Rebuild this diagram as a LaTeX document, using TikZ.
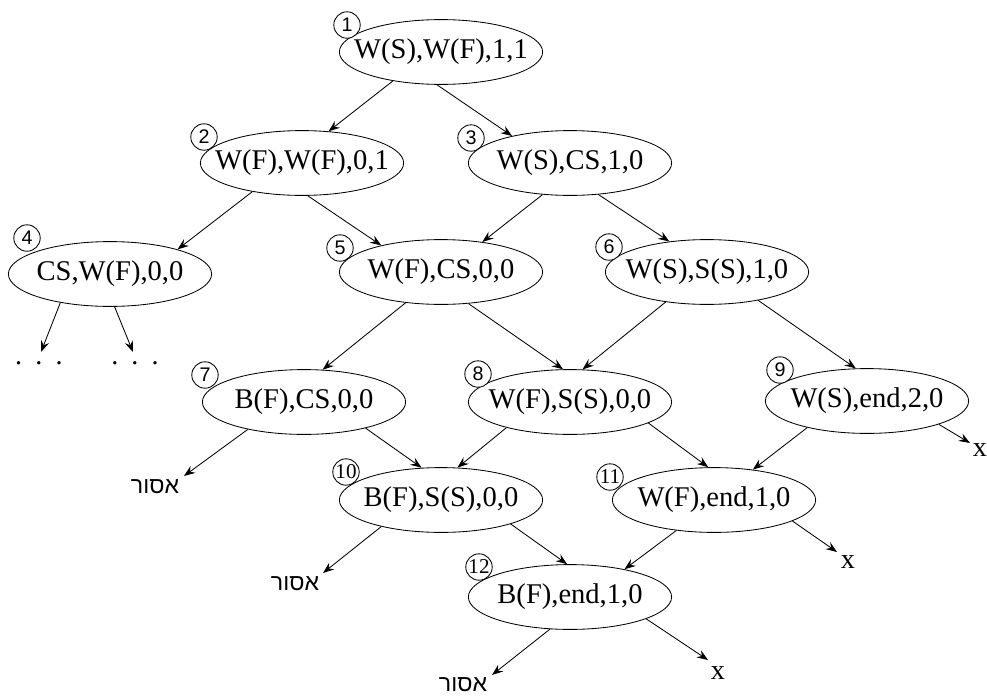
\documentclass[tikz,border=0pt]{standalone}
\usepackage{fontspec}
\setmainfont{Liberation Serif}
\newfontfamily\numfont{Liberation Sans}
\newfontfamily\hebfont[Script=Hebrew]{Liberation Sans}
\TeXXeTstate=1
\usetikzlibrary{shapes.geometric,arrows.meta}
\newcommand{\lbl}[1]{\makebox[0pt]{#1}}

\begin{document}
\begin{tikzpicture}[x=0.025cm,y=-0.025cm,
		state/.style={shape=ellipse,draw=black,line width=0.6pt,inner sep=0pt,minimum width=5.08cm,minimum height=1.62cm,font=\fontsize{20.3}{24}\selectfont},
		num/.style={shape=circle,draw=black,fill=white,line width=0.6pt,inner sep=0pt,minimum size=0.66cm,font=\numfont\fontsize{14}{16}\selectfont},
		numb/.style={num,font=\fontsize{15}{17}\selectfont},
		leaf/.style={inner sep=0pt,font=\fontsize{20}{24}\selectfont},
		heb/.style={inner sep=0pt,font=\hebfont\fontsize{16.5}{20}\selectfont},
		edge/.style={-{Stealth[length=2.8mm,width=2.1mm,inset=1mm]},line width=0.6pt}]
			\useasboundingbox (0,0) rectangle (987,698);

			\node[state] (n1) at (441,52) {\lbl{W(S),W(F),1,1}};
			\node[state] (n2) at (302,163) {\lbl{W(F),W(F),0,1}};
			\node[state] (n3) at (570,163) {\lbl{W(S),CS,1,0}};
			\node[state] (n4) at (110,274) {\lbl{CS,W(F),0,0}};
			\node[state] (n5) at (441,272) {\lbl{W(F),CS,0,0}};
			\node[state] (n6) at (707,272) {\lbl{W(S),S(S),1,0}};
			\node[state] (n7) at (304,402) {\lbl{B(F),CS,0,0}};
			\node[state] (n8) at (570,402) {\lbl{W(F),S(S),0,0}};
			\node[state] (n9) at (867,401) {\lbl{W(S),end,2,0}};
			\node[state] (n10) at (441,500) {\lbl{B(F),S(S),0,0}};
			\node[state] (n11) at (714,500) {\lbl{W(F),end,1,0}};
			\node[state] (n12) at (570,597) {\lbl{B(F),end,1,0}};

			\node[num] (c1) at (347,25) {1};
			\node[num] (c2) at (204,137) {2};
			\node[num] (c3) at (471,138) {3};
			\node[num] (c4) at (27,238) {4};
			\node[num] (c5) at (340,248) {5};
			\node[num] (c6) at (609,247) {6};
			\node[num] (c7) at (205,375) {7};
			\node[num] (c8) at (478,374) {8};
			\node[num] (c9) at (780,370) {9};
			\node[numb] (c10) at (346,472) {10};
			\node[numb] (c11) at (610,477) {11};
			\node[numb] (c12) at (479,567) {12};

			\node[leaf,anchor=base] (dots1) at (39,364) {.\hspace{0.33cm}.\hspace{0.33cm}.};
			\node[leaf,anchor=base] (dots2) at (135,364) {.\hspace{0.33cm}.\hspace{0.33cm}.};
			\node[heb] (h7) at (155,487) {\beginR אסור\endR};
			\node[heb] (h10) at (295,584) {\beginR אסור\endR};
			\node[heb] (h12) at (463,685) {\beginR אסור\endR};
			\node[leaf] (x9) at (980,450) {x};
			\node[leaf] (x11) at (848,562) {x};
			\node[leaf] (x12) at (718,673) {x};

			\coordinate (d1) at (41,352);
			\coordinate (d2) at (133,352);
			\coordinate (e7) at (184,476);
			\coordinate (e10) at (323,573);
			\coordinate (e12) at (492,675);
			\coordinate (f9) at (970,443);
			\coordinate (f11) at (837,552);
			\coordinate (f12) at (708,660);

			\draw[edge] (n1.211) -- (n2.50);
			\draw[edge] (n1.263) -- (n3.155);
			\draw[edge] (n2.210) -- (n4.20);
			\draw[edge] (n2.280) -- (n5.156);
			\draw[edge] (n3.229) -- (n5.36);
			\draw[edge] (n3.312) -- (n6.141);
			\draw[edge] (n5.221) -- (n7.60);
			\draw[edge] (n5.311) -- (n8.102);
			\draw[edge] (n6.216) -- (n8.69);
			\draw[edge] (n6.331) -- (n9.109);
			\draw[edge] (n7.337) -- (n10.121);
			\draw[edge] (n8.202) -- (n10.63);
			\draw[edge] (n8.345) -- (n11.100);
			\draw[edge] (n9.204) -- (n11.38);
			\draw[edge] (n10.341) -- (n12.95);
			\draw[edge] (n11.219) -- (n12.27);

			\draw[edge] (n4.210) -- (d1);
			\draw[edge] (n4.278) -- (d2);
			\draw[edge] (n7.206) -- (e7);
			\draw[edge] (n10.204) -- (e10);
			\draw[edge] (n12.238) -- (e12);
			\draw[edge] (n9.342) -- (f9);
			\draw[edge] (n11.345) -- (f11);
			\draw[edge] (n12.344) -- (f12);
		\end{tikzpicture}
\end{document}
